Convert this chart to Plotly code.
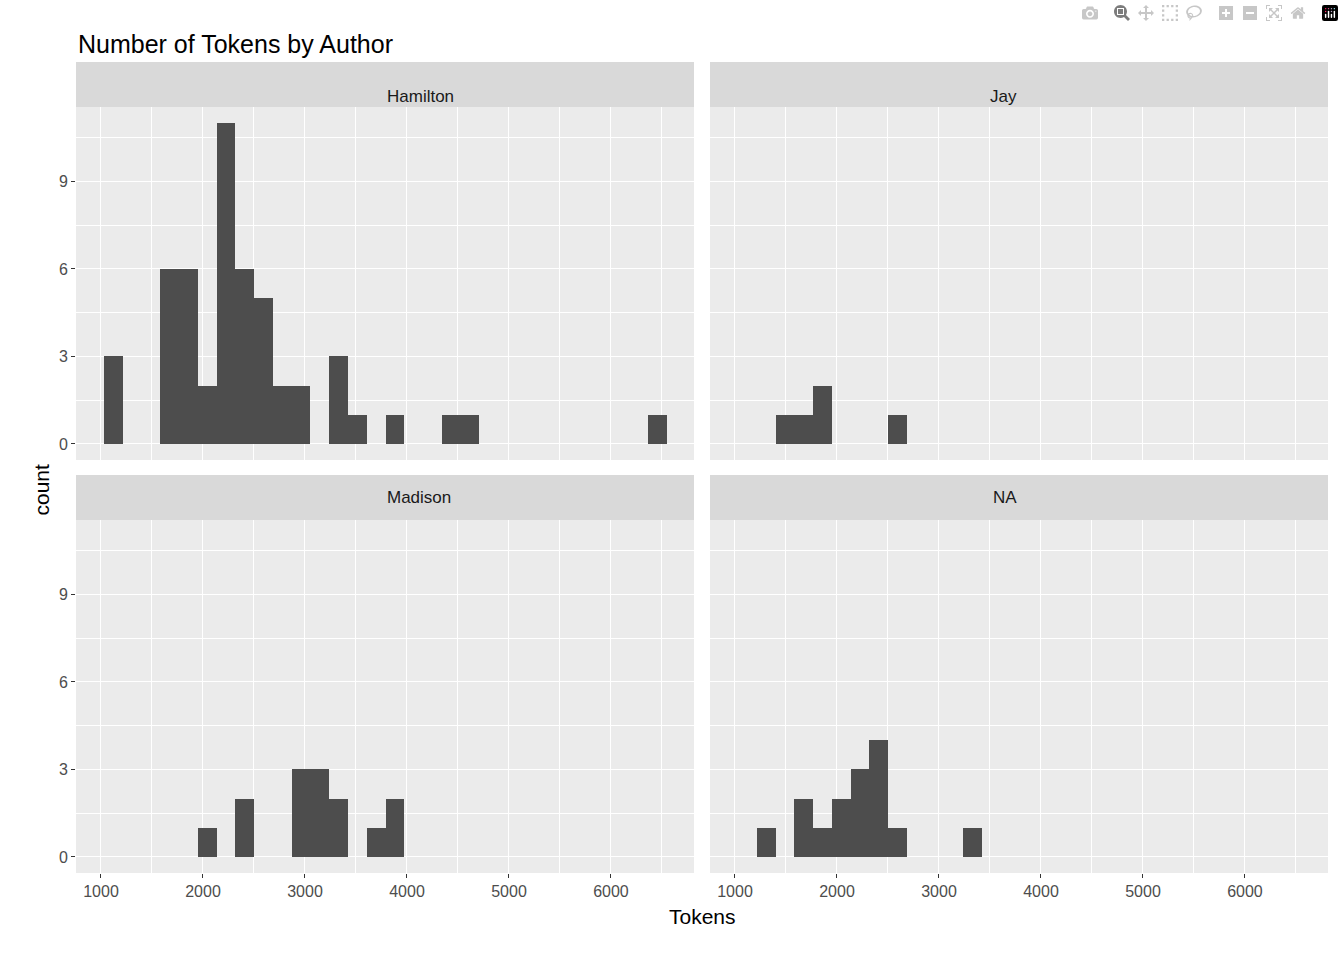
import plotly.graph_objects as go

bin_start = 1030
bin_width = 184
n_bins = 30
panels = ["Hamilton", "Jay", "Madison", "NA"]
counts = {
    "Hamilton": {0: 3, 3: 6, 4: 6, 5: 2, 6: 11, 7: 6, 8: 5, 9: 2, 10: 2, 12: 3, 13: 1, 15: 1, 18: 1, 19: 1, 29: 1},
    "Jay": {2: 1, 3: 1, 4: 2, 8: 1},
    "Madison": {5: 1, 7: 2, 10: 3, 11: 3, 12: 2, 14: 1, 15: 2},
    "NA": {1: 1, 3: 2, 4: 1, 5: 2, 6: 3, 7: 4, 8: 1, 12: 1},
}
x_ticks = [1000, 2000, 3000, 4000, 5000, 6000]
y_ticks = [0, 3, 6, 9]

W, H = 1344, 960
xd = [(76 / W, 694 / W), (710 / W, 1328 / W)]
yd = [(1 - 460 / H, 1 - 107 / H), (1 - 873 / H, 1 - 520 / H)]
strip_h = 45 / H

fig = go.Figure()
layout = dict(width=W, height=H, margin=dict(l=0, r=0, t=0, b=0),
              plot_bgcolor="#EBEBEB", paper_bgcolor="white", showlegend=False,
              font=dict(family="Liberation Sans, Arial", color="#4D4D4D"), bargap=0)
shapes, anns = [], []
for i, name in enumerate(panels):
    r, c = divmod(i, 2)
    idx = "" if i == 0 else str(i + 1)
    xs = [bin_start + bin_width * (b + 0.5) for b in range(n_bins)]
    ys = [counts[name].get(b, 0) for b in range(n_bins)]
    fig.add_trace(go.Bar(x=xs, y=ys, width=bin_width, marker=dict(color="#4D4D4D", line_width=0),
                         xaxis="x" + idx, yaxis="y" + idx))
    grid = dict(showgrid=True, gridcolor="white", gridwidth=1.4, zeroline=False,
                ticklen=4, tickcolor="#333333",
                tickfont=dict(size=16, color="#4D4D4D"),
                minor=dict(showgrid=True, gridcolor="white", gridwidth=0.7))
    layout["xaxis" + idx] = dict(grid, domain=xd[c], anchor="y" + idx, range=[755, 6814],
                                 tickvals=x_ticks, showticklabels=(r == 1),
                                 ticks="outside" if r == 1 else "",
                                 minor=dict(grid["minor"], tickvals=[1500, 2500, 3500, 4500, 5500, 6500]))
    layout["yaxis" + idx] = dict(grid, domain=yd[r], anchor="x" + idx, range=[-0.55, 11.55],
                                 tickvals=y_ticks, showticklabels=(c == 0),
                                 ticks="outside" if c == 0 else "",
                                 minor=dict(grid["minor"], tickvals=[1.5, 4.5, 7.5, 10.5]))
    shapes.append(dict(type="rect", xref="paper", yref="paper", x0=xd[c][0], x1=xd[c][1],
                       y0=yd[r][1], y1=yd[r][1] + strip_h, fillcolor="#D9D9D9", line_width=0))
    anns.append(dict(text=name, xref="paper", yref="paper", x=(xd[c][0] + xd[c][1]) / 2,
                     y=yd[r][1] + strip_h / 2, showarrow=False, font=dict(size=17, color="#1A1A1A")))
anns.append(dict(text="Tokens", xref="paper", yref="paper", x=(76 + 1328) / 2 / W, y=1 - 930 / H,
                 showarrow=False, font=dict(size=21, color="black")))
anns.append(dict(text="count", xref="paper", yref="paper", x=28 / W, y=1 - 490 / H, textangle=-90,
                 showarrow=False, font=dict(size=21, color="black")))
anns.append(dict(text="Number of Tokens by Author", xref="paper", yref="paper", x=76 / W, y=1 - 28 / H,
                 xanchor="left", showarrow=False, font=dict(size=25, color="black")))
layout["shapes"] = shapes
layout["annotations"] = anns
fig.update_layout(**layout)
fig.write_html("out.html")

with open("out.html", encoding="utf-8") as f:
    html = f.read()
html = html.replace("<body>", '<body style="margin:0;padding:0;overflow:hidden">', 1)
with open("out.html", "w", encoding="utf-8") as f:
    f.write(html)
